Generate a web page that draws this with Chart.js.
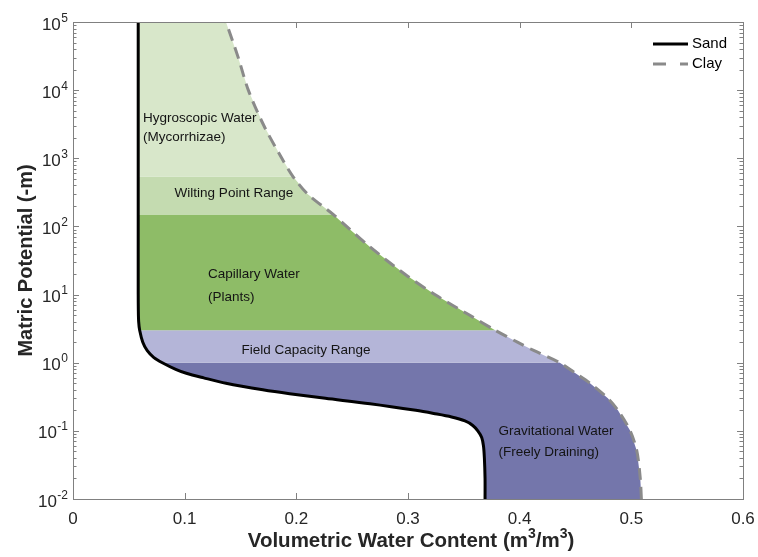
<!DOCTYPE html>
<html>
<head>
<meta charset="utf-8">
<script src="https://cdn.jsdelivr.net/npm/chart.js@4.4.1/dist/chart.umd.min.js"></script>
<style>
html,body{margin:0;padding:0;background:#fff;}
#wrap{width:758px;height:557px;position:relative;}
</style>
</head>
<body>
<div id="wrap"><canvas id="c" width="758" height="557"></canvas></div>
<script>
// ---- data ----
const sandH = [0.01, 0.02, 0.04, 0.06, 0.08, 0.1, 0.12, 0.14, 0.16, 0.18, 0.2, 0.25, 0.3, 0.35, 0.4, 0.5, 0.6, 0.7, 0.8, 1, 1.2, 1.5, 2, 3, 4, 6, 10, 150, 540, 100000];
const sandTheta = [0.369, 0.369, 0.3684, 0.3676, 0.366, 0.3625, 0.358, 0.351, 0.339, 0.323, 0.307, 0.266, 0.226, 0.194, 0.170, 0.137, 0.117, 0.1015, 0.092, 0.080, 0.0722, 0.0665, 0.0625, 0.0597, 0.0588, 0.0585, 0.0584, 0.0584, 0.0584, 0.0584];

const clayH = [0.01, 0.02, 0.05, 0.1, 0.2, 0.3, 0.5, 0.7, 1, 1.5, 2, 3, 5, 10, 20, 50, 100, 150, 300, 540, 1000, 3000, 10000, 30000, 100000];
const clayTheta = [0.509, 0.508, 0.505, 0.499, 0.488, 0.479, 0.463, 0.450, 0.436, 0.413, 0.398, 0.378, 0.355, 0.324, 0.297, 0.266, 0.245, 0.233, 0.210, 0.197, 0.187, 0.171, 0.157, 0.148, 0.137];

const bandNames = ['Hygroscopic', 'Wilting Point', 'Capillary', 'Field Capacity', 'Gravitational'];
const bandTop = [100000, 540, 150, 3, 1];
const bandBottom = [540, 150, 3, 1, 0.01];
const bandColors = ['#d8e7ca', '#c4dbb0', '#8ebc67', '#b4b5d8', '#7476ab'];

const xTickValues = [0, 0.1, 0.2, 0.3, 0.4, 0.5, 0.6];
const xTickLabels = ['0', '0.1', '0.2', '0.3', '0.4', '0.5', '0.6'];
const yTickExponents = [-2, -1, 0, 1, 2, 3, 4, 5];

const annotationTexts = ['Hygroscopic Water', '(Mycorrhizae)', 'Wilting Point Range', 'Capillary Water', '(Plants)', 'Field Capacity Range', 'Gravitational Water', '(Freely Draining)'];
const annotationTheta = [0.0627, 0.0627, 0.091, 0.1209, 0.1209, 0.1508, 0.3811, 0.3811];
const annotationH = [3837, 2023, 305, 19.8, 8.98, 1.5, 0.0986, 0.049];

const seriesNames = ['Sand', 'Clay'];
const xTitleParts = [['Volumetric Water Content (m', false], ['3', true], ['/m', false], ['3', true], [')', false]];
const yTitle = 'Matric Potential (-m)';

// ---- build datasets ----
const FONT = "'Liberation Sans', Arial, Helvetica, sans-serif";
const sandPts = sandH.map((h, i) => ({x: sandTheta[i], y: h}));
const clayPts = clayH.map((h, i) => ({x: clayTheta[i], y: h}));

function bandPolygon(lo, hi) {
  const left = sandPts.filter(p => p.y >= lo && p.y <= hi);          // ascending h
  const right = clayPts.filter(p => p.y >= lo && p.y <= hi).reverse(); // descending h
  return left.concat(right);
}

const datasets = [
  {label: seriesNames[0], data: sandPts, borderColor: '#000000', borderWidth: 3, pointRadius: 0, fill: false, tension: 0.3, order: 0},
  {label: seriesNames[1], data: clayPts, borderColor: '#8a8a8a', borderWidth: 3, borderDash: [12, 7], pointRadius: 0, fill: false, tension: 0.3, order: 1}
];
bandNames.forEach((n, i) => {
  datasets.push({
    label: n, data: bandPolygon(bandBottom[i], bandTop[i]),
    borderWidth: 0, borderColor: 'rgba(0,0,0,0)', backgroundColor: bandColors[i],
    pointRadius: 0, fill: 'shape', tension: 0, order: 10 + i
  });
});

const axisColor = '#808080';
const textColor = '#262626';

const decorations = {
  id: 'decorations',
  beforeDatasetsDraw(chart) {
    const {ctx, chartArea: a, scales: {x, y}} = chart;
    ctx.save();
    ctx.strokeStyle = axisColor;
    ctx.lineWidth = 1;
    ctx.beginPath();
    xTickValues.forEach(v => {
      const px = Math.round(x.getPixelForValue(v)) + 0.5;
      ctx.moveTo(px, a.bottom); ctx.lineTo(px, a.bottom - 6);
      ctx.moveTo(px, a.top); ctx.lineTo(px, a.top + 6);
    });
    yTickExponents.forEach(e => {
      for (let k = 1; k <= 9; k++) {
        const v = k * Math.pow(10, e);
        if (v > 100000 * 1.0001) break;
        const py = Math.round(y.getPixelForValue(v)) + 0.5;
        const len = k === 1 ? 6 : 3.5;
        ctx.moveTo(a.left, py); ctx.lineTo(a.left + len, py);
        ctx.moveTo(a.right, py); ctx.lineTo(a.right - len, py);
      }
    });
    ctx.stroke();
    ctx.restore();
  },
  afterDatasetsDraw(chart) {
    const {ctx, chartArea: a, scales: {x, y}} = chart;
    ctx.save();
    // box
    ctx.strokeStyle = axisColor;
    ctx.lineWidth = 1;
    ctx.strokeRect(Math.round(a.left) + 0.5, Math.round(a.top) + 0.5, Math.round(a.right - a.left), Math.round(a.bottom - a.top));

    // y tick labels with superscripts
    ctx.fillStyle = textColor;
    ctx.textAlign = 'right';
    ctx.textBaseline = 'alphabetic';
    yTickExponents.forEach(e => {
      const py = y.getPixelForValue(Math.pow(10, e));
      const rightX = a.left - 5;
      const expStr = e < 0 ? '-' + Math.abs(e) : String(e);
      ctx.font = '12px ' + FONT;
      const ew = ctx.measureText(expStr).width;
      ctx.fillText(expStr, rightX, py - 0.5);
      ctx.font = '17px ' + FONT;
      ctx.fillText('10', rightX - ew - 0.5, py + 7.5);
    });

    // x title with real superscripts
    ctx.textAlign = 'left';
    ctx.textBaseline = 'alphabetic';
    ctx.fillStyle = textColor;
    const mainFont = 'bold 20.5px ' + FONT, supFont = 'bold 14px ' + FONT;
    let total = 0;
    const widths = xTitleParts.map(([t, sup]) => { ctx.font = sup ? supFont : mainFont; const w = ctx.measureText(t).width; total += w; return w; });
    let cx = (a.left + a.right) / 2 - total / 2 + 3;
    const base = 547;
    xTitleParts.forEach(([t, sup], i) => {
      ctx.font = sup ? supFont : mainFont;
      ctx.fillText(t, cx, sup ? base - 9 : base);
      cx += widths[i];
    });

    // annotations
    ctx.fillStyle = '#141414';
    ctx.textAlign = 'left';
    ctx.textBaseline = 'middle';
    ctx.font = '13.5px ' + FONT;
    annotationTexts.forEach((t, i) => {
      ctx.fillText(t, x.getPixelForValue(annotationTheta[i]), y.getPixelForValue(annotationH[i]));
    });

    // legend (top-right inside axes)
    const lx0 = a.right - 90, lx1 = a.right - 55;
    const rows = [a.top + 22, a.top + 42];
    [0, 1].forEach(i => {
      const ds = chart.data.datasets[i];
      ctx.strokeStyle = ds.borderColor;
      ctx.lineWidth = 3;
      ctx.setLineDash(i === 1 ? [13, 14] : []);
      ctx.beginPath();
      ctx.moveTo(lx0, rows[i]); ctx.lineTo(lx1, rows[i]);
      ctx.stroke();
      ctx.setLineDash([]);
      ctx.fillStyle = '#000000';
      ctx.font = '15px ' + FONT;
      ctx.textBaseline = 'middle';
      ctx.fillText(ds.label, lx1 + 4, rows[i]);
    });
    ctx.restore();
  }
};

new Chart(document.getElementById('c'), {
  type: 'line',
  data: {datasets},
  options: {
    responsive: false,
    animation: false,
    devicePixelRatio: 1,
    layout: {padding: {top: 22, right: 15, left: 0, bottom: 0}},
    plugins: {legend: {display: false}, tooltip: {enabled: false}},
    scales: {
      x: {
        type: 'linear', min: 0, max: 0.6,
        grid: {display: false, drawTicks: false},
        border: {display: false},
        afterBuildTicks(scale) { scale.ticks = xTickValues.map(v => ({value: v})); },
        ticks: {
          padding: 10, color: textColor, font: {family: FONT, size: 17},
          maxRotation: 0, autoSkip: false,
          callback: (v, i) => xTickLabels[i]
        },
        title: {display: false},
        afterFit(scale) { scale.height = 58; scale.paddingLeft = 0; scale.paddingRight = 0; }
      },
      y: {
        type: 'logarithmic', min: 0.01, max: 100000,
        grid: {display: false, drawTicks: false},
        border: {display: false},
        ticks: {display: false},
        title: {display: true, text: yTitle, color: textColor,
                font: {family: FONT, size: 20, weight: 'bold'}, padding: {top: 14, bottom: 0}},
        afterFit(scale) { scale.width = 73; scale.paddingTop = 0; scale.paddingBottom = 0; }
      }
    }
  },
  plugins: [decorations]
});
</script>
</body>
</html>
